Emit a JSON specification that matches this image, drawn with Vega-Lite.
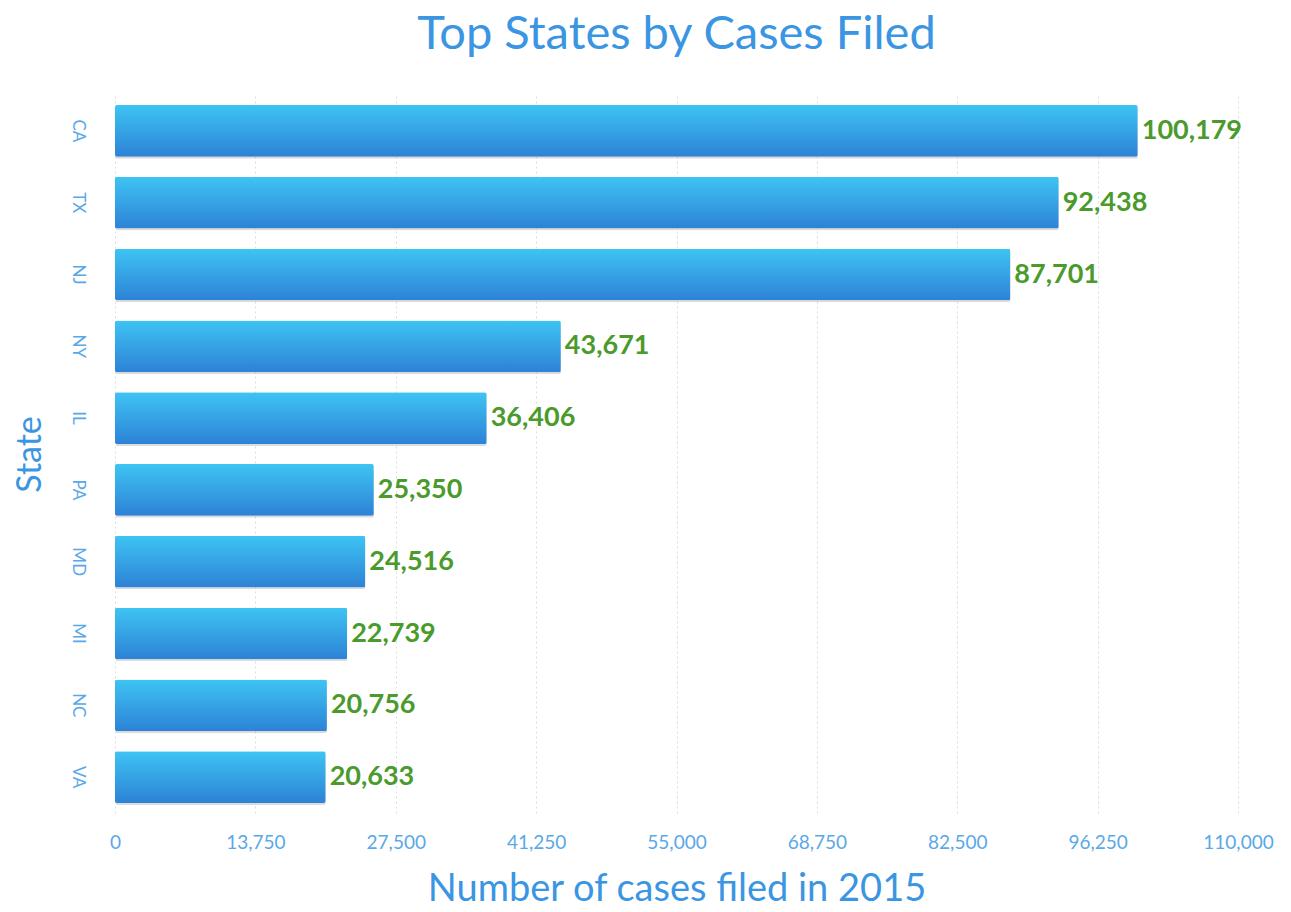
{
  "$schema": "https://vega.github.io/schema/vega-lite/v6.json",
  "autosize": {"type": "none"},
  "width": 1123,
  "height": 718,
  "padding": {"left": 115, "top": 95, "right": 53, "bottom": 99},
  "background": "white",
  "title": {
    "text": "Top States by Cases Filed",
    "font": "Lato",
    "fontSize": 47,
    "fontWeight": "normal",
    "color": "#3a95e2",
    "anchor": "middle",
    "offset": 36
  },
  "data": {
    "values": [
      {"state": "CA", "cases": 100179},
      {"state": "TX", "cases": 92438},
      {"state": "NJ", "cases": 87701},
      {"state": "NY", "cases": 43671},
      {"state": "IL", "cases": 36406},
      {"state": "PA", "cases": 25350},
      {"state": "MD", "cases": 24516},
      {"state": "MI", "cases": 22739},
      {"state": "NC", "cases": 20756},
      {"state": "VA", "cases": 20633}
    ]
  },
  "encoding": {
    "y": {
      "field": "state",
      "type": "nominal",
      "sort": null,
      "scale": {"paddingInner": 0.28, "paddingOuter": 0.14},
      "axis": {
        "title": "State",
        "titleFont": "Lato",
        "titleFontSize": 34,
        "titleFontWeight": "normal",
        "titleColor": "#3a95e2",
        "titlePadding": 22,
        "labelAngle": 90,
        "labelAlign": "center",
        "labelBaseline": "bottom",
        "labelFont": "Lato",
        "labelFontSize": 17,
        "labelColor": "#5aa8e8",
        "labelPadding": 47,
        "ticks": false,
        "domain": false,
        "grid": false
      }
    },
    "x": {
      "field": "cases",
      "type": "quantitative",
      "scale": {"domain": [0, 110000], "nice": false},
      "axis": {
        "title": "Number of cases filed in 2015",
        "titleFont": "Lato",
        "titleFontSize": 38,
        "titleFontWeight": "normal",
        "titleColor": "#3a95e2",
        "titlePadding": 18,
        "values": [0, 13750, 27500, 41250, 55000, 68750, 82500, 96250, 110000],
        "format": ",.0f",
        "labelFont": "Lato",
        "labelFontSize": 19,
        "labelColor": "#5aa8e8",
        "labelPadding": 20,
        "labelFlush": false,
        "ticks": false,
        "domain": false,
        "grid": true,
        "gridColor": "#dddddd",
        "gridDash": [2, 3],
        "gridWidth": 1
      }
    }
  },
  "layer": [
    {
      "mark": {
        "type": "bar",
        "cornerRadius": 2,
        "color": "#8a8a8a",
        "opacity": 0.3,
        "xOffset": 1,
        "yOffset": 2
      }
    },
    {
      "mark": {
        "type": "bar",
        "cornerRadius": 2,
        "color": {
          "gradient": "linear",
          "x1": 0, "y1": 0, "x2": 0, "y2": 1,
          "stops": [
            {"offset": 0, "color": "#3ec4f3"},
            {"offset": 1, "color": "#2d82d6"}
          ]
        }
      }
    },
    {
      "mark": {
        "type": "text",
        "align": "left",
        "baseline": "middle",
        "dx": 4,
        "font": "Lato",
        "fontSize": 27,
        "fontWeight": "bold",
        "color": "#4a9a2c"
      },
      "encoding": {
        "text": {"field": "cases", "type": "quantitative", "format": ",.0f"}
      }
    }
  ],
  "config": {"view": {"stroke": null}}
}
